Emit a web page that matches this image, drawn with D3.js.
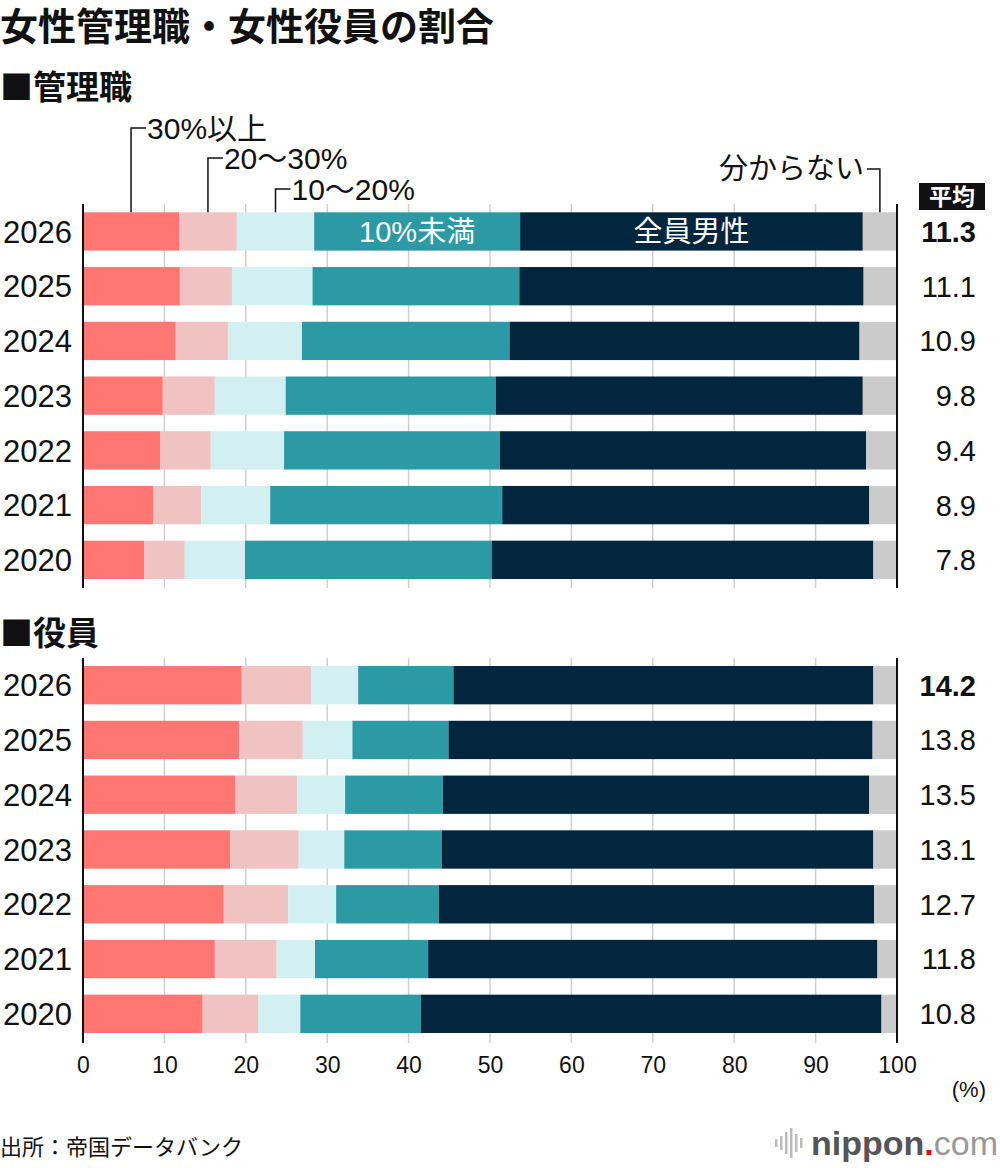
<!DOCTYPE html>
<html lang="ja">
<head>
<meta charset="UTF-8">
<title>女性管理職・女性役員の割合</title>
<script src="https://cdn.jsdelivr.net/npm/d3@7"></script>
<style>
  body { margin: 0; background: #fff; }
  svg { display: block; }
  text { font-family: "Liberation Sans", "Noto Sans CJK JP", sans-serif; fill: #111; }
  .jp { font-family: "Noto Sans CJK JP", sans-serif; }
</style>
</head>
<body>
<div id="chart"></div>
<script>
// years, top row first
var years = ["2026", "2025", "2024", "2023", "2022", "2021", "2020"];
var categories = ["30%以上", "20〜30%", "10〜20%", "10%未満", "全員男性", "分からない"];
var colors = ["#ff7673", "#f0c2c1", "#d2f0f1", "#2b9aa5", "#03263f", "#cbcbcb"];

// 管理職 (managers), share of companies by category, %
var kanri30 = [11.8, 11.9, 11.4, 9.8, 9.5, 8.6, 7.5];
var kanri20 = [7.1, 6.4, 6.4, 6.4, 6.2, 5.9, 5.0];
var kanri10 = [9.5, 9.9, 9.1, 8.7, 9.0, 8.5, 7.4];
var kanriUnder10 = [25.3, 25.4, 25.5, 25.8, 26.5, 28.5, 30.3];
var kanriAllMen = [42.1, 42.3, 43.0, 45.1, 45.0, 45.1, 46.9];
var kanriUnknown = [4.2, 4.1, 4.6, 4.2, 3.8, 3.4, 2.9];
var kanriAvg = ["11.3", "11.1", "10.9", "9.8", "9.4", "8.9", "7.8"];

// 役員 (executives)
var yakuin30 = [19.5, 19.2, 18.7, 18.1, 17.3, 16.2, 14.7];
var yakuin20 = [8.5, 7.8, 7.6, 8.4, 7.9, 7.6, 6.8];
var yakuin10 = [5.8, 6.1, 5.9, 5.6, 5.9, 4.7, 5.2];
var yakuinUnder10 = [11.7, 11.8, 12.0, 12.0, 12.6, 13.9, 14.8];
var yakuinAllMen = [51.6, 52.1, 52.4, 53.0, 53.5, 55.2, 56.6];
var yakuinUnknown = [2.9, 3.0, 3.4, 2.9, 2.8, 2.4, 1.9];
var yakuinAvg = ["14.2", "13.8", "13.5", "13.1", "12.7", "11.8", "10.8"];

var xTicks = [0, 10, 20, 30, 40, 50, 60, 70, 80, 90, 100];

function rows(series) {
  return years.map(function (y, i) {
    var r = { year: y };
    categories.forEach(function (c, j) { r[c] = series[j][i]; });
    return r;
  });
}

var panels = [
  { name: "■管理職", head: 99, top: 212.3, bottom: 579, lineTop: 204, lineBottom: 588,
    data: rows([kanri30, kanri20, kanri10, kanriUnder10, kanriAllMen, kanriUnknown]), avg: kanriAvg },
  { name: "■役員", head: 645, top: 666, bottom: 1033, lineTop: 658, lineBottom: 1043,
    data: rows([yakuin30, yakuin20, yakuin10, yakuinUnder10, yakuinAllMen, yakuinUnknown]), avg: yakuinAvg }
];

var width = 1000, height = 1168;
var svg = d3.select("#chart").append("svg")
  .attr("width", width)
  .attr("height", height);

var x = d3.scaleLinear().domain([0, 100]).range([83, 897]);
var color = d3.scaleOrdinal().domain(categories).range(colors);
var stack = d3.stack().keys(categories);

svg.append("text")
  .attr("class", "jp")
  .attr("x", 0).attr("y", 40)
  .attr("font-size", 38).attr("font-weight", 700)
  .text("女性管理職・女性役員の割合");

panels.forEach(function (p, pi) {
  var y = d3.scaleBand().domain(years).range([p.top, p.bottom]).paddingInner(0.3).paddingOuter(0);
  var g = svg.append("g");

  g.append("text")
    .attr("class", "jp")
    .attr("x", 0).attr("y", p.head)
    .attr("font-size", 33).attr("font-weight", 700)
    .text(p.name);

  // grid
  g.append("g").selectAll("line")
    .data(xTicks.filter(function (d) { return d > 0 && d < 100; }))
    .join("line")
    .attr("x1", x).attr("x2", x)
    .attr("y1", p.lineTop).attr("y2", p.lineBottom)
    .attr("stroke", "#cfcfcf").attr("stroke-width", 1.5);

  var series = stack(p.data);
  g.append("g").selectAll("g")
    .data(series)
    .join("g")
    .attr("fill", function (d) { return color(d.key); })
    .selectAll("rect")
    .data(function (d) { return d; })
    .join("rect")
    .attr("x", function (d) { return x(d[0]); })
    .attr("width", function (d) { return x(d[1]) - x(d[0]); })
    .attr("y", function (d) { return y(d.data.year); })
    .attr("height", y.bandwidth());

  // 0 and 100 lines
  g.append("g").selectAll("line")
    .data([0, 100])
    .join("line")
    .attr("x1", x).attr("x2", x)
    .attr("y1", p.lineTop).attr("y2", p.lineBottom)
    .attr("stroke", "#111").attr("stroke-width", 2);

  // year labels
  g.append("g").selectAll("text")
    .data(years)
    .join("text")
    .attr("x", 72)
    .attr("y", function (d) { return y(d) + y.bandwidth() / 2; })
    .attr("dy", "0.36em")
    .attr("text-anchor", "end")
    .attr("font-size", 31)
    .text(function (d) { return d; });

  // averages
  g.append("g").selectAll("text")
    .data(p.avg)
    .join("text")
    .attr("x", 976)
    .attr("y", function (d, i) { return y(years[i]) + y.bandwidth() / 2; })
    .attr("dy", "0.36em")
    .attr("text-anchor", "end")
    .attr("font-size", 29)
    .attr("font-weight", function (d, i) { return i === 0 ? 700 : 400; })
    .text(function (d) { return d; });

  if (pi === 0) {
    var first = series.map(function (s) { return s[0]; });
    var yTop = y(years[0]);
    var legendY = [128, 158, 189];
    // left leaders
    [0, 1, 2].forEach(function (k) {
      var cx = x((first[k][0] + first[k][1]) / 2);
      g.append("path")
        .attr("d", "M" + cx + "," + yTop + "V" + legendY[k] + "H" + (cx + 15))
        .attr("fill", "none").attr("stroke", "#111").attr("stroke-width", 1.5);
      g.append("text")
        .attr("x", cx + 16).attr("y", legendY[k])
        .attr("dy", "0.36em")
        .attr("font-size", 30)
        .text(categories[k]);
    });
    // 分からない
    var ux = x((first[5][0] + first[5][1]) / 2);
    g.append("path")
      .attr("d", "M" + ux + "," + yTop + "V169H" + (ux - 13))
      .attr("fill", "none").attr("stroke", "#111").attr("stroke-width", 1.5);
    g.append("text")
      .attr("class", "jp")
      .attr("x", ux - 16).attr("y", 169)
      .attr("dy", "0.36em")
      .attr("text-anchor", "end")
      .attr("font-size", 29)
      .text(categories[5]);
    // inner labels
    [3, 4].forEach(function (k) {
      g.append("text")
        .attr("x", x((first[k][0] + first[k][1]) / 2))
        .attr("y", yTop + y.bandwidth() / 2)
        .attr("dy", "0.36em")
        .attr("text-anchor", "middle")
        .attr("font-size", 29)
        .style("fill", "#fff")
        .text(categories[k]);
    });
    // 平均 header
    g.append("rect")
      .attr("x", 919).attr("y", 183).attr("width", 66).attr("height", 27)
      .attr("fill", "#111");
    g.append("text")
      .attr("class", "jp")
      .attr("x", 952).attr("y", 196.5)
      .attr("dy", "0.36em")
      .attr("text-anchor", "middle")
      .attr("font-size", 23).attr("font-weight", 700)
      .style("fill", "#fff")
      .text("平均");
  }
});

// x axis under the bottom panel
var axis = svg.append("g")
  .attr("transform", "translate(0,1045)")
  .call(d3.axisBottom(x).tickValues(xTicks).tickSize(0).tickPadding(12));
axis.select(".domain").remove();
axis.selectAll("text")
  .attr("font-size", 23)
  .attr("font-family", "Liberation Sans, sans-serif")
  .style("fill", "#111");

svg.append("text")
  .attr("x", 986).attr("y", 1097)
  .attr("text-anchor", "end")
  .attr("font-size", 22)
  .text("(%)");

svg.append("text")
  .attr("class", "jp")
  .attr("x", 0).attr("y", 1155)
  .attr("font-size", 22)
  .text("出所：帝国データバンク");

// nippon.com mark
var logo = svg.append("g");
[[775, 8], [780, 14], [785, 22], [790, 30], [795, 18], [800, 10]].forEach(function (b) {
  logo.append("rect")
    .attr("x", b[0]).attr("y", 1143 - b[1] / 2)
    .attr("width", 2.5).attr("height", b[1])
    .attr("fill", "#bbb");
});
var logoText = logo.append("text")
  .attr("x", 998).attr("y", 1155)
  .attr("text-anchor", "end")
  .attr("font-size", 34);
logoText.append("tspan").attr("font-weight", 700).style("fill", "#555").text("nippon");
logoText.append("tspan").attr("font-weight", 700).style("fill", "#e60012").text(".");
logoText.append("tspan").style("fill", "#999").text("com");
</script>
</body>
</html>
